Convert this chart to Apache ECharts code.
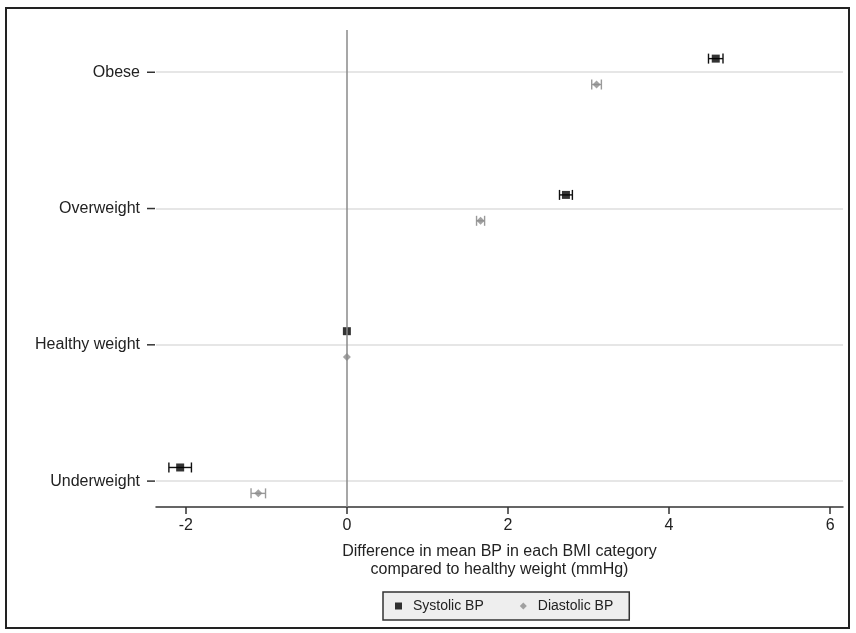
<!DOCTYPE html>
<html>
<head>
<meta charset="utf-8">
<script src="https://cdn.jsdelivr.net/npm/echarts@6/dist/echarts.min.js"></script>
<style>
html,body{margin:0;padding:0;background:#fff;}
#chart{width:856px;height:633px;}
</style>
</head>
<body>
<div id="chart"></div>
<script>
// Categories from bottom (y=1) to top (y=4)
var categories = ['Underweight', 'Healthy weight', 'Overweight', 'Obese'];
var categoryPos = [1, 2, 3, 4];
// Systolic BP difference (mmHg) and 95% CI
var systolic     = [-2.07, 0, 2.72, 4.58];
var systolicLow  = [-2.21, 0, 2.64, 4.49];
var systolicHigh = [-1.93, 0, 2.80, 4.67];
// Diastolic BP difference (mmHg) and 95% CI
var diastolic     = [-1.10, 0, 1.66, 3.10];
var diastolicLow  = [-1.19, 0, 1.61, 3.04];
var diastolicHigh = [-1.01, 0, 1.71, 3.16];
var xTicks = [-2, 0, 2, 4, 6];

var X_MIN = -2.37, X_MAX = 6.16;
var SYS_OFF = 0.1, DIA_OFF = -0.09;

function pts(vals, off) {
  return vals.map(function (v, i) { return [v, categoryPos[i] + off]; });
}
function ci(lo, hi, off) {
  return lo.map(function (l, i) { return [l, hi[i], categoryPos[i] + off]; });
}
function errRenderer(color) {
  return function (params, api) {
    var lo = api.value(0), hi = api.value(1), y = api.value(2);
    if (lo === hi) return null;
    var p1 = api.coord([lo, y]), p2 = api.coord([hi, y]);
    var st = { stroke: color, lineWidth: 1.4 };
    return {
      type: 'group',
      children: [
        { type: 'line', shape: { x1: p1[0], y1: p1[1], x2: p2[0], y2: p2[1] }, style: st },
        { type: 'line', shape: { x1: p1[0], y1: p1[1] - 5, x2: p1[0], y2: p1[1] + 5 }, style: st },
        { type: 'line', shape: { x1: p2[0], y1: p2[1] - 5, x2: p2[0], y2: p2[1] + 5 }, style: st }
      ]
    };
  };
}
function yTickRenderer(params, api) {
  var p = api.coord([X_MIN, api.value(0)]);
  return {
    type: 'line',
    shape: { x1: p[0] - 9, y1: p[1], x2: p[0] - 1, y2: p[1] },
    style: { stroke: '#333', lineWidth: 1.5 }
  };
}

var chart = echarts.init(document.getElementById('chart'), null, { renderer: 'canvas' });
var FONT = 'Liberation Sans, Arial, sans-serif';
chart.setOption({
  backgroundColor: '#ffffff',
  animation: false,
  grid: { left: 156, right: 13, top: 30, bottom: 126, containLabel: false },
  xAxis: {
    type: 'value', min: X_MIN, max: X_MAX,
    name: 'Difference in mean BP in each BMI category\ncompared to healthy weight (mmHg)',
    nameLocation: 'middle', nameGap: 36,
    nameTextStyle: { fontFamily: FONT, fontSize: 16, color: '#222', lineHeight: 18 },
    axisLine: { show: true, lineStyle: { color: '#333', width: 1.5 } },
    axisTick: { show: true, length: 7, customValues: xTicks, lineStyle: { color: '#333', width: 1.5 } },
    axisLabel: { customValues: xTicks, fontFamily: FONT, fontSize: 16, color: '#222', margin: 11 },
    splitLine: { show: false }
  },
  yAxis: {
    type: 'value', min: 0.81, max: 4.31,
    axisLine: { show: false, onZero: false },
    axisTick: { show: false },
    axisLabel: {
      customValues: categoryPos, fontFamily: FONT, fontSize: 16, color: '#222', margin: 16,
      formatter: function (v) { return categories[Math.round(v) - 1] || ''; }
    },
    splitLine: { show: false }
  },
  legend: {
    data: [
      { name: 'Systolic BP', icon: 'rect' },
      { name: 'Diastolic BP', icon: 'diamond' }
    ],
    left: 383, bottom: 13,
    itemWidth: 7, itemHeight: 7, itemGap: 36,
    padding: [7, 16, 7, 12],
    backgroundColor: '#eeeeee', borderColor: '#333', borderWidth: 1.5, borderRadius: 0,
    textStyle: { fontFamily: FONT, fontSize: 14, color: '#222', padding: [0, 0, 0, 6] }
  },
  graphic: [{
    type: 'rect', shape: { x: 6, y: 8, width: 843, height: 620 },
    style: { fill: 'none', stroke: '#222', lineWidth: 2 }, silent: true, z: 100
  }],
  series: [
    {
      name: 'grid', type: 'scatter', data: [], silent: true, z: 1,
      markLine: {
        silent: true, symbol: ['none', 'none'], label: { show: false },
        lineStyle: { color: '#e6e6e6', width: 2, type: 'solid' },
        data: categoryPos.map(function (p) { return { yAxis: p }; })
      }
    },
    {
      name: 'yticks', type: 'custom', renderItem: yTickRenderer, clip: false, silent: true,
      data: categoryPos.map(function (p) { return [p]; }), encode: { y: 0 }, z: 2
    },
    {
      name: 'zero', type: 'scatter', data: [], silent: true, z: 2,
      markLine: {
        silent: true, symbol: ['none', 'none'], label: { show: false },
        lineStyle: { color: '#8a8a8a', width: 1.5, type: 'solid' },
        data: [{ xAxis: 0 }]
      }
    },
    {
      name: 'sysCI', type: 'custom', renderItem: errRenderer('#111'),
      data: ci(systolicLow, systolicHigh, SYS_OFF), encode: { x: [0, 1], y: 2 }, z: 3
    },
    {
      name: 'diaCI', type: 'custom', renderItem: errRenderer('#9a9a9a'),
      data: ci(diastolicLow, diastolicHigh, DIA_OFF), encode: { x: [0, 1], y: 2 }, z: 3
    },
    {
      name: 'Systolic BP', type: 'scatter', symbol: 'rect', symbolSize: 8,
      itemStyle: { color: '#000' }, data: pts(systolic, SYS_OFF), z: 4
    },
    {
      name: 'Diastolic BP', type: 'scatter', symbol: 'diamond', symbolSize: 8,
      itemStyle: { color: '#8c8c8c' }, data: pts(diastolic, DIA_OFF), z: 4
    }
  ]
});
</script>
</body>
</html>
